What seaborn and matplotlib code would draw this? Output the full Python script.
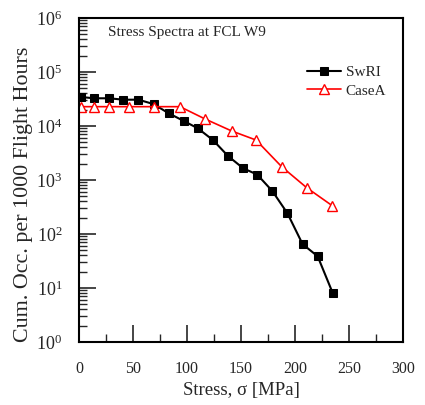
import numpy as np
import pandas as pd
import matplotlib
matplotlib.use("Agg")
import matplotlib.pyplot as plt
import seaborn as sns
from matplotlib.ticker import FixedLocator, LogLocator, MultipleLocator, NullFormatter

# Data
swri_stress = [2, 14, 28, 41, 55, 69, 83, 97, 110, 124, 138, 152, 165, 179, 193, 207, 221, 235]
swri_occ = [34400, 32600, 32600, 30700, 30700, 25500, 17200, 12400, 9060, 5500, 2780, 1650, 1260, 625, 242, 65, 38.6, 8.0]
casea_stress = [1.6, 13.9, 27.8, 46.6, 69.4, 93.5, 116.7, 141.4, 163.9, 187.7, 210.8, 234.5]
casea_occ = [22800, 22800, 22800, 22800, 22800, 22800, 13500, 8080, 5500, 1760, 721, 334]
series_names = ["SwRI", "CaseA"]
y_ticks = [1, 10, 100, 1000, 1e4, 1e5, 1e6]
y_tick_labels = [r"$10^{0}$", r"$10^{1}$", r"$10^{2}$", r"$10^{3}$", r"$10^{4}$", r"$10^{5}$", r"$10^{6}$"]
x_ticks = [0, 50, 100, 150, 200, 250, 300]
title_text = "Stress Spectra at FCL W9"
x_label = "Stress, σ [MPa]"
y_label = "Cum. Occ. per 1000 Flight Hours"

sns.set_style("ticks")
plt.rcParams["font.family"] = ["Liberation Serif", "DejaVu Serif"]
plt.rcParams["mathtext.fontset"] = "custom"
plt.rcParams["mathtext.rm"] = "Liberation Serif"
plt.rcParams["mathtext.it"] = "Liberation Serif:italic"

fig = plt.figure(figsize=(4.25, 4.05), dpi=100)
ax = fig.add_axes([79/425, 1-342/405, (403-79)/425, (342-18)/405])

df1 = pd.DataFrame({"x": swri_stress, "y": swri_occ})
df2 = pd.DataFrame({"x": casea_stress, "y": casea_occ})

sns.lineplot(data=df1, x="x", y="y", ax=ax, color="black", lw=1.5, marker="s",
             markersize=6, markerfacecolor="black", markeredgecolor="black",
             label=series_names[0], sort=False)
sns.lineplot(data=df2, x="x", y="y", ax=ax, color="#ff0000", lw=1.2, marker="^",
             markersize=7, markerfacecolor="white", markeredgecolor="#ff0000",
             markeredgewidth=1.0, label=series_names[1], sort=False)

ax.set_yscale("log")
ax.set_xlim(0, 300)
ax.set_ylim(1, 1e6)
ax.set_xticks(x_ticks)
ax.set_xticklabels([str(v) for v in x_ticks])
ax.xaxis.set_minor_locator(FixedLocator([25, 75, 125, 175, 225, 275]))
ax.set_yticks(y_ticks)
ax.set_yticklabels(y_tick_labels)
ax.yaxis.set_minor_locator(LogLocator(base=10, subs=np.arange(2, 10), numticks=20))
ax.yaxis.set_minor_formatter(NullFormatter())

ax.tick_params(which="major", direction="in", length=12, width=1.2)
ax.tick_params(which="minor", direction="in", length=6, width=1.0)
ax.tick_params(axis="x", which="major", pad=14, labelsize=11.5)
ax.tick_params(axis="y", which="major", pad=12, labelsize=13)
for s in ax.spines.values():
    s.set_linewidth(1.5)
    s.set_color("black")

ax.set_xlabel(x_label, fontsize=13.5, labelpad=3)
ax.set_ylabel(y_label, fontsize=15.8)
ax.yaxis.set_label_coords(-0.142, 0.455)

ax.text(0.09, 0.975, title_text, transform=ax.transAxes, fontsize=11, va="top", ha="left")

leg = ax.legend(loc="upper right", bbox_to_anchor=(0.99, 0.895), frameon=False, fontsize=11,
                handlelength=2.2, handletextpad=0.3, labelspacing=0.3)

fig.savefig("out.png", dpi=100)
